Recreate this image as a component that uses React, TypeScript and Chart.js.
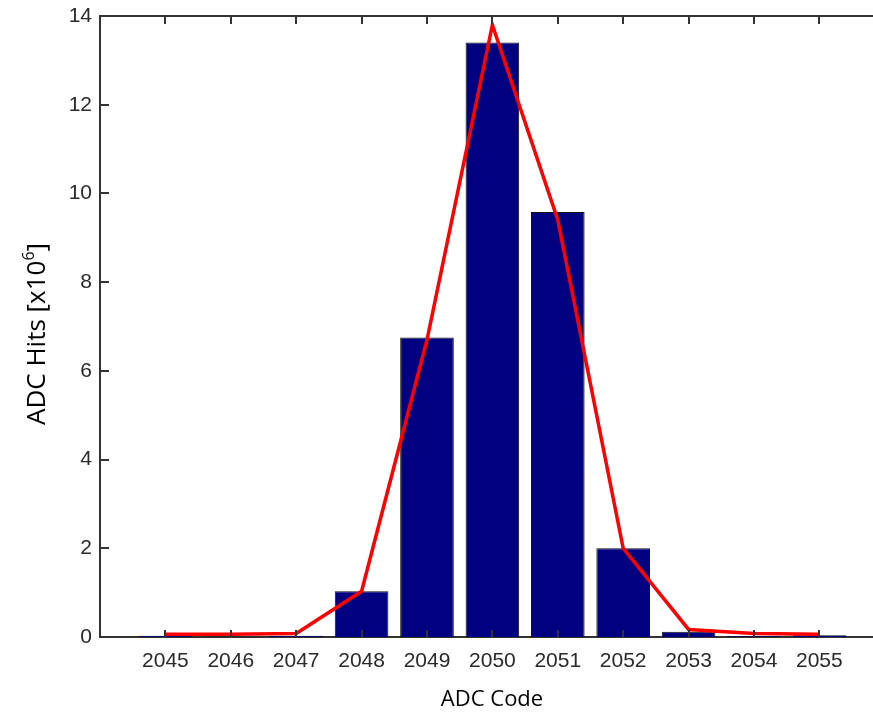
import React, { useEffect, useRef } from "react";
import { Chart, registerables } from "chart.js";

Chart.register(...registerables);

const codes = [2045, 2046, 2047, 2048, 2049, 2050, 2051, 2052, 2053, 2054, 2055];
const barHits = [0.03, 0.01, 0.03, 1.03, 6.75, 13.4, 9.58, 2.0, 0.12, 0.02, 0.04];
const fitHits = [0.06, 0.06, 0.08, 1.03, 6.7, 13.8, 9.4, 2.0, 0.17, 0.08, 0.06];
const yTicks = [0, 2, 4, 6, 8, 10, 12, 14];
const xTitle = "ADC Code";
const yTitleMain = "ADC Hits [x10";
const yTitleSup = "6";
const yTitleEnd = "]";

const AXIS_COLOR = "#333333";
const TICK_FONT = "Liberation Sans";
const TITLE_FONT = "'Open Sans'";

const framePlugin = {
  id: "frame",
  afterDraw(chart: any) {
    const { ctx, chartArea } = chart;
    const xs = chart.scales.x;
    const ys = chart.scales.y;
    ctx.save();
    ctx.strokeStyle = AXIS_COLOR;
    ctx.lineWidth = 2;
    ctx.beginPath();
    ctx.moveTo(chartArea.left, chartArea.top);
    ctx.lineTo(chartArea.right, chartArea.top);
    ctx.stroke();
    codes.forEach((c) => {
      const px = Math.round(xs.getPixelForValue(c));
      ctx.beginPath();
      ctx.moveTo(px, chartArea.top);
      ctx.lineTo(px, chartArea.top + 8);
      ctx.moveTo(px, chartArea.bottom);
      ctx.lineTo(px, chartArea.bottom - 7);
      ctx.stroke();
    });
    yTicks.forEach((v) => {
      const py = Math.round(ys.getPixelForValue(v));
      ctx.beginPath();
      ctx.moveTo(chartArea.left, py);
      ctx.lineTo(chartArea.left + 9, py);
      ctx.stroke();
    });
    ctx.fillStyle = "#000000";
    ctx.font = `22px ${TITLE_FONT}`;
    ctx.textAlign = "center";
    ctx.textBaseline = "middle";
    ctx.fillText(xTitle, 492, 700);
    ctx.translate(36, 334);
    ctx.rotate(-Math.PI / 2);
    ctx.font = `26px ${TITLE_FONT}`;
    const w1 = ctx.measureText(yTitleMain).width;
    ctx.font = `16px ${TITLE_FONT}`;
    const w2 = ctx.measureText(yTitleSup).width;
    ctx.font = `26px ${TITLE_FONT}`;
    const w3 = ctx.measureText(yTitleEnd).width;
    const total = w1 + w2 + w3;
    let x0 = -total / 2;
    ctx.textAlign = "left";
    ctx.textBaseline = "alphabetic";
    ctx.fillText(yTitleMain, x0, 9);
    x0 += w1;
    ctx.font = `16px ${TITLE_FONT}`;
    ctx.fillText(yTitleSup, x0, -2);
    x0 += w2;
    ctx.font = `26px ${TITLE_FONT}`;
    ctx.fillText(yTitleEnd, x0, 9);
    ctx.restore();
  },
};

export default function App() {
  const ref = useRef<HTMLCanvasElement | null>(null);
  useEffect(() => {
    if (!ref.current) return;
    const chart = new Chart(ref.current, {
      type: "bar",
      data: {
        datasets: [
          {
            type: "line",
            data: codes.map((c, i) => ({ x: c, y: fitHits[i] })),
            borderColor: "#ff0000",
            borderWidth: 3.5,
            pointRadius: 0,
            tension: 0,
            order: 0,
          } as any,
          {
            type: "bar",
            data: codes.map((c, i) => ({ x: c, y: barHits[i] })),
            backgroundColor: "#000080",
            borderColor: "#111111",
            borderWidth: 1,
            barPercentage: 0.82,
            categoryPercentage: 1,
            order: 1,
          } as any,
        ],
      },
      options: {
        responsive: false,
        animation: false,
        devicePixelRatio: 1,
        layout: { padding: { top: 16, right: 0, bottom: 0, left: 0 } },
        plugins: { legend: { display: false }, tooltip: { enabled: false } },
        scales: {
          x: {
            type: "linear",
            offset: false,
            min: 2044,
            max: 2055.82,
            grid: { display: false, drawTicks: false, offset: false },
            border: { display: true, color: AXIS_COLOR, width: 2 },
            afterBuildTicks: (scale: any) => {
              scale.ticks = codes.map((c) => ({ value: c }));
            },
            afterFit: (scale: any) => {
              scale.height = 77;
              scale.paddingLeft = 0;
              scale.paddingRight = 0;
            },
            ticks: {
              autoSkip: false,
              maxRotation: 0,
              padding: 12,
              color: "#2a2a2a",
              font: { family: TICK_FONT, size: 21 },
              callback: (v: any) => String(v),
            },
          },
          y: {
            type: "linear",
            min: 0,
            max: 14,
            grid: { display: false, drawTicks: false },
            border: { display: true, color: AXIS_COLOR, width: 2 },
            afterBuildTicks: (scale: any) => {
              scale.ticks = yTicks.map((v) => ({ value: v }));
            },
            afterFit: (scale: any) => {
              scale.width = 100;
              scale.paddingTop = 0;
              scale.paddingBottom = 0;
            },
            ticks: {
              padding: 8,
              color: "#2a2a2a",
              font: { family: TICK_FONT, size: 21 },
              callback: (v: any) => String(v),
            },
          },
        },
      },
      plugins: [framePlugin],
    });
    return () => chart.destroy();
  }, []);
  return (
    <div style={{ position: "fixed", left: 0, top: 0, width: 873, height: 714, background: "#fff" }}>
      <canvas ref={ref} width={873} height={714} />
    </div>
  );
}
